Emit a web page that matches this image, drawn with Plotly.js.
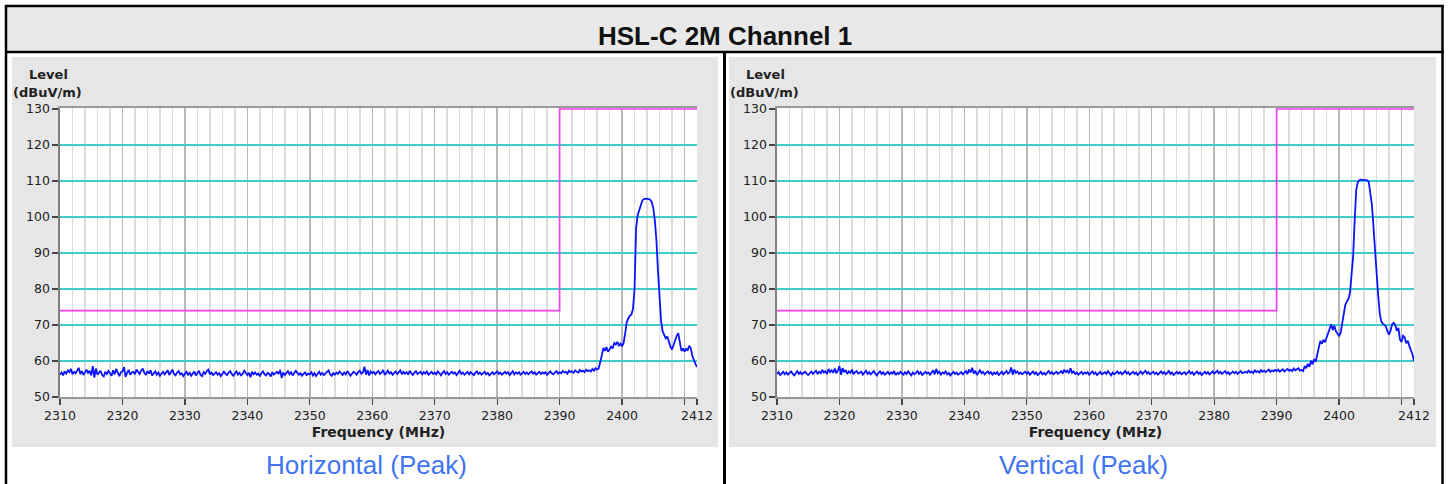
<!DOCTYPE html>
<html>
<head>
<meta charset="utf-8">
<script src="https://cdn.plot.ly/plotly-3.0.1.min.js"></script>
<style>html,body{margin:0;padding:0;background:#fff;}#chart{width:1450px;height:484px;}</style>
</head>
<body>
<div id="chart"></div>
<script>
// ---- data ----
const chartTitle = 'HSL-C 2M Channel 1';
const panelCaptions = ['Horizontal (Peak)', 'Vertical (Peak)'];
const freqStart = 2310;   // MHz, first sample
const freqStep = 0.25;    // MHz between samples

const xTickVals = [2310, 2320, 2330, 2340, 2350, 2360, 2370, 2380, 2390, 2400, 2410, 2412];
const xTickText = ['2310', '2320', '2330', '2340', '2350', '2360', '2370', '2380', '2390', '2400', '', '2412'];
const yTickVals = [50, 60, 70, 80, 90, 100, 110, 120, 130];
const yGridVals = [60, 70, 80, 90, 100, 110, 120];

const limitFreq = [2310, 2390, 2390, 2412];
const limitLevel = [74, 74, 130, 130];

// Horizontal polarisation, peak detector (dBuV/m), 2310 .. 2412 MHz
const horizontalLevel = [
56.2,56.8,56.0,57.1,56.5,57.4,56.9,57.8,56.3,57.0,56.6,57.5,58.1,56.4,57.2,56.1,56.9,57.6,56.7,57.3,
56.0,58.6,55.4,57.9,56.2,56.8,57.3,56.1,55.7,57.0,56.4,57.2,56.6,55.9,57.4,56.3,57.8,56.5,55.8,56.9,
57.1,58.3,55.6,56.7,57.5,56.2,56.8,57.0,56.3,57.6,56.9,56.4,57.3,57.9,56.7,56.1,57.2,56.5,57.4,56.0,
56.6,57.1,56.2,56.8,55.9,56.5,57.0,56.3,56.9,57.4,56.1,56.7,57.6,56.4,56.0,56.8,57.2,56.3,56.6,55.8,
56.5,57.0,56.2,56.7,55.9,56.4,57.1,56.0,56.6,57.3,56.2,55.8,56.9,56.4,57.2,57.6,56.3,56.8,56.1,56.5,
56.9,56.2,56.6,55.8,56.3,57.0,56.5,56.1,56.8,57.2,56.4,55.9,56.6,57.1,56.2,56.7,56.0,56.4,57.3,56.6,
56.1,56.7,55.5,57.0,56.3,56.8,56.2,56.5,55.9,56.6,57.1,56.3,56.0,56.7,56.4,55.7,56.9,56.2,56.6,57.0,
56.4,57.5,55.3,56.8,56.1,56.6,57.2,56.3,56.9,56.0,56.5,57.3,56.7,56.2,56.6,55.9,56.4,56.8,56.1,56.5,
56.3,56.9,56.0,56.6,55.8,56.4,57.0,56.2,56.7,56.1,56.5,56.9,57.4,56.3,55.9,56.6,56.2,56.8,56.4,57.1,
56.5,56.1,56.8,56.3,57.2,56.6,55.9,56.4,57.0,56.7,56.2,56.9,57.3,56.5,56.8,58.4,56.2,57.5,56.0,57.1,
56.6,57.0,56.3,56.9,57.2,56.4,56.8,57.5,56.1,56.7,57.3,56.5,56.9,56.2,56.6,57.1,56.4,56.8,57.4,56.3,
57.0,56.5,56.9,56.2,57.3,56.6,56.1,56.8,57.2,56.4,56.7,57.0,56.3,56.9,56.5,57.1,56.2,56.6,57.0,56.4,
56.8,56.3,57.1,56.6,56.0,56.7,57.2,56.4,56.9,56.2,56.6,57.0,56.5,56.8,56.1,56.7,57.3,56.4,56.8,56.2,
56.6,57.0,56.3,56.9,56.5,56.1,56.7,57.1,56.4,56.8,56.2,56.6,57.0,56.3,56.7,56.0,56.5,56.9,56.3,56.7,
57.1,56.4,56.8,56.2,56.6,57.0,56.5,56.9,56.1,56.7,57.2,56.3,56.8,56.5,56.9,56.2,56.6,57.0,56.4,56.8,
56.3,56.7,57.1,56.5,56.9,56.2,56.6,57.0,56.4,56.8,56.5,56.9,56.2,56.7,57.1,56.6,56.3,56.8,57.2,56.5,
56.9,56.6,57.2,56.8,57.0,56.5,57.3,56.9,57.1,56.7,57.4,57.0,56.8,57.5,57.1,57.3,56.9,57.6,57.2,57.4,
57.1,57.8,57.3,58.0,
57.6,57.9,59.5,61.5, 63.6,62.8,63.9,62.6, 63.2,64.0,63.5,65.0, 64.6,65.3,64.2,64.8,
64.1,65.0,67.7,70.8, 71.8,72.6,72.9,74.5,
80.0,97.0,100.5,102.0, 103.8,104.6,105.0,105.1, 105.1,105.0,104.8,104.2, 102.5,99.0,93.6,85.0,
76.5,71.0,68.2,67.0, 66.3,66.8,65.2,64.0, 63.2,64.5,66.3,67.0, 67.7,65.5,62.8,63.5,
62.6,63.4,62.9,64.2, 63.6,61.4,60.0,59.2,
58.3
];

// Vertical polarisation, peak detector (dBuV/m), 2310 .. 2412 MHz
const verticalLevel = [
56.4,56.9,56.1,56.6,57.0,56.3,56.8,56.2,56.7,57.1,56.5,56.0,56.6,57.2,56.4,56.9,56.3,56.7,57.0,56.5,
56.1,56.6,57.1,56.4,56.8,57.3,56.5,57.0,56.6,57.5,56.8,57.2,56.4,57.8,56.9,57.4,56.7,57.9,56.6,57.3,
58.6,56.2,58.0,56.9,57.5,56.4,57.1,56.7,57.6,56.3,56.9,57.2,56.5,56.8,57.0,56.2,56.7,57.3,56.4,56.9,
56.3,56.8,57.2,56.5,56.0,56.7,57.1,56.4,56.9,56.2,56.6,57.0,56.3,56.8,56.5,57.2,56.1,56.7,56.4,57.0,
56.6,56.2,56.9,56.4,57.1,56.5,56.0,56.8,56.3,56.7,57.2,56.4,56.9,56.1,56.6,57.0,56.5,56.8,56.2,56.7,
57.4,56.3,57.8,56.6,57.0,56.2,56.8,56.5,57.1,56.3,56.7,56.0,56.6,57.0,56.4,56.8,56.2,56.6,56.9,56.3,
56.7,57.2,56.4,57.6,56.8,58.1,56.5,57.3,56.1,56.9,57.4,56.6,57.0,56.3,56.7,57.1,56.5,56.9,56.2,56.8,
56.4,56.9,56.1,56.6,57.0,56.3,56.8,57.2,56.5,56.9,58.2,56.2,57.6,56.7,57.1,56.4,56.8,56.3,56.7,57.0,
56.5,56.9,56.2,56.7,57.1,56.4,56.8,56.1,56.6,57.0,56.3,56.7,56.2,56.6,57.2,56.5,56.9,56.3,56.7,57.0,
56.4,56.8,57.2,56.5,57.6,56.9,57.3,56.6,58.0,56.7,57.1,56.4,56.8,56.2,56.6,57.0,56.3,56.8,56.5,56.9,
56.2,56.7,57.1,56.4,56.8,56.1,56.6,57.0,56.3,56.7,56.9,56.4,57.2,56.6,56.0,56.8,56.3,56.7,57.1,56.5,
56.9,56.3,56.7,57.2,56.5,56.9,56.2,56.6,57.0,56.4,56.8,56.1,56.6,57.1,56.4,56.8,57.3,56.5,56.9,56.3,
56.7,57.0,56.4,56.8,56.2,56.6,57.1,56.5,56.9,56.3,56.7,57.2,56.4,56.8,56.1,56.6,57.0,56.5,56.9,56.3,
56.6,56.9,56.3,56.8,57.2,56.5,56.9,56.2,56.7,57.1,56.4,56.8,56.1,56.6,57.0,56.5,56.9,56.3,56.7,57.1,
56.5,56.9,57.3,56.6,57.0,56.4,56.8,57.2,56.5,56.9,56.3,56.7,57.1,56.6,57.0,56.4,56.8,57.2,56.6,56.9,
57.0,56.7,57.3,56.8,57.1,56.6,57.4,56.9,57.2,56.8,57.5,57.0,57.3,56.9,57.2,57.6,57.0,57.4,57.1,57.5,
57.2,57.6,57.0,57.4,57.7,57.1,57.5,57.8,57.3,57.6,57.2,57.9,57.4,57.7,58.0,57.3,
57.5,57.2,58.6,58.0, 59.2,58.4,60.0,59.1, 60.5,59.8,61.8,64.2, 65.6,64.8,65.9,65.2,
66.4,67.8,68.8,70.2, 68.6,69.8,68.2,67.4, 67.0,67.8,70.5,73.5, 75.6,76.5,77.2,79.0,
84.4,89.0,99.0,107.5, 109.6,110.2,110.4,110.4, 110.4,110.3,110.2,109.8, 107.0,103.5,97.5,90.5,
84.0,78.5,73.5,71.0, 70.4,70.1,69.6,68.2, 67.3,68.5,70.2,70.6, 70.0,68.4,69.2,66.0,
65.3,67.0,66.6,64.9, 65.6,64.2,63.0,61.9,
60.0
];

// ---- geometry helpers (page pixels -> paper fraction) ----
const W = 1450, H = 484;
const px = x => x / W;
const py = y => 1 - y / H;

const dejavu = '"DejaVu Sans", Verdana, sans-serif';
const arial = 'Arial, "Liberation Sans", sans-serif';
const axisFont = {family: dejavu, size: 12.5, color: '#222'};
const titleFont = {family: dejavu, size: 14, color: '#222'};
const yRange = [50, 130.35];

function xAxis(dom, anchor) {
  return {
    domain: dom, anchor: anchor, range: [2310, 2412],
    tickmode: 'array', tickvals: xTickVals, ticktext: xTickText,
    ticks: 'outside', ticklen: 6, tickwidth: 1.2, tickcolor: '#444',
    tickfont: axisFont,
    showgrid: true, gridcolor: '#b8b8b8', gridwidth: 1.5,
    minor: {tickmode: 'linear', tick0: 2310, dtick: 2, showgrid: true, gridcolor: '#dddddd', gridwidth: 1.5, ticks: ''},
    showline: true, mirror: true, linecolor: '#9a9a9a', linewidth: 1.5,
    zeroline: false, layer: 'below traces', fixedrange: true,
    title: {text: '<b>Frequency (MHz)</b>', font: titleFont, standoff: 5}
  };
}
function yAxis(dom, anchor) {
  return {
    domain: dom, anchor: anchor, range: yRange,
    tickmode: 'array', tickvals: yTickVals,
    ticks: 'outside', ticklen: 6, tickwidth: 1.2, tickcolor: '#444',
    tickfont: axisFont,
    showgrid: false,
    showline: true, linecolor: '#808080', linewidth: 1.6,
    zeroline: false, layer: 'below traces', fixedrange: true
  };
}
// grid-only companion axis (cyan level lines between the edges)
function yGridAxis(over, anchor) {
  return {
    overlaying: over, anchor: anchor, range: yRange,
    tickmode: 'array', tickvals: yGridVals, showticklabels: false, ticks: '',
    showgrid: true, gridcolor: '#40cccc', gridwidth: 1.6,
    showline: false, zeroline: false, layer: 'below traces', fixedrange: true
  };
}

const limitLine = {color: '#ee40ee', width: 1.7};
const traceLine = {color: '#0c14ff', width: 1.8};
const traces = [
  // carrier for the grid-only axes (drawn transparent)
  {x: limitFreq, y: limitLevel, xaxis: 'x', yaxis: 'y3', mode: 'lines', line: {color: 'rgba(0,0,0,0)', width: 0}, hoverinfo: 'skip'},
  {x: limitFreq, y: limitLevel, xaxis: 'x2', yaxis: 'y4', mode: 'lines', line: {color: 'rgba(0,0,0,0)', width: 0}, hoverinfo: 'skip'},
  {x: limitFreq, y: limitLevel, xaxis: 'x', yaxis: 'y', mode: 'lines', line: limitLine, hoverinfo: 'skip'},
  {x0: freqStart, dx: freqStep, y: horizontalLevel, xaxis: 'x', yaxis: 'y', mode: 'lines', line: traceLine},
  {x: limitFreq, y: limitLevel, xaxis: 'x2', yaxis: 'y2', mode: 'lines', line: limitLine, hoverinfo: 'skip'},
  {x0: freqStart, dx: freqStep, y: verticalLevel, xaxis: 'x2', yaxis: 'y2', mode: 'lines', line: traceLine}
];

const rect = (x0, y0, x1, y1, fill) => ({type: 'rect', xref: 'paper', yref: 'paper', x0: px(x0), x1: px(x1), y0: py(y1), y1: py(y0), fillcolor: fill, line: {width: 0}, layer: 'below'});
const vline = (x, y0, y1, w) => ({type: 'line', xref: 'paper', yref: 'paper', x0: px(x), x1: px(x), y0: py(y0), y1: py(y1), line: {color: '#000', width: w}, layer: 'above'});
const hline = (y, x0, x1, w) => ({type: 'line', xref: 'paper', yref: 'paper', x0: px(x0), x1: px(x1), y0: py(y), y1: py(y), line: {color: '#000', width: w}, layer: 'above'});
const plotBg = (xr, yr) => ({type: 'rect', xref: xr + ' domain', yref: yr + ' domain', x0: 0, x1: 1, y0: 0, y1: 1, fillcolor: '#fff', line: {width: 0}, layer: 'below'});

const shapes = [
  rect(7, 7, 1442, 51, '#e9e9e9'),
  rect(12, 57, 718, 447, '#e6e6e6'),
  rect(729, 57, 1436, 447, '#e6e6e6'),
  plotBg('x', 'y'), plotBg('x2', 'y2'),
  vline(6, 5, 484, 2.5), vline(1442.5, 5, 484, 2.5),
  hline(6, 5, 1444, 2.5), hline(52, 5, 1444, 2.5),
  vline(724.5, 52, 484, 3)
];

const ann = (text, x, y, size, color, fam) => ({text: text, x: px(x), y: py(y), xref: 'paper', yref: 'paper', showarrow: false, xanchor: 'center', yanchor: 'middle', font: {family: fam, size: size, color: color}});
const annotations = [
  ann('<b>' + chartTitle + '</b>', 725, 36, 26, '#111', arial),
  ann('<b>Level</b>', 48, 75, 13, '#222', dejavu),
  ann('<b>(dBuV/m)</b>', 47, 92, 13, '#222', dejavu),
  ann('<b>Level</b>', 765, 75, 13, '#222', dejavu),
  ann('<b>(dBuV/m)</b>', 764, 92, 13, '#222', dejavu),
  ann(panelCaptions[0], 366, 465, 26, '#3f74f2', arial),
  ann(panelCaptions[1], 1083, 465, 26, '#3f74f2', arial)
];

const plotTop = 109 - 0.35 * 3.6;
const layout = {
  width: W, height: H, margin: {l: 0, r: 0, t: 0, b: 0},
  paper_bgcolor: '#fff', plot_bgcolor: 'rgba(0,0,0,0)', showlegend: false,
  xaxis: xAxis([px(60), px(697)], 'y'),
  yaxis: yAxis([py(397), py(plotTop)], 'x'),
  xaxis2: xAxis([px(777), px(1414)], 'y2'),
  yaxis2: yAxis([py(397), py(plotTop)], 'x2'),
  yaxis3: yGridAxis('y', 'x'),
  yaxis4: yGridAxis('y2', 'x2'),
  shapes: shapes, annotations: annotations
};

Plotly.newPlot('chart', traces, layout, {displayModeBar: false, staticPlot: true});
</script>
</body>
</html>
